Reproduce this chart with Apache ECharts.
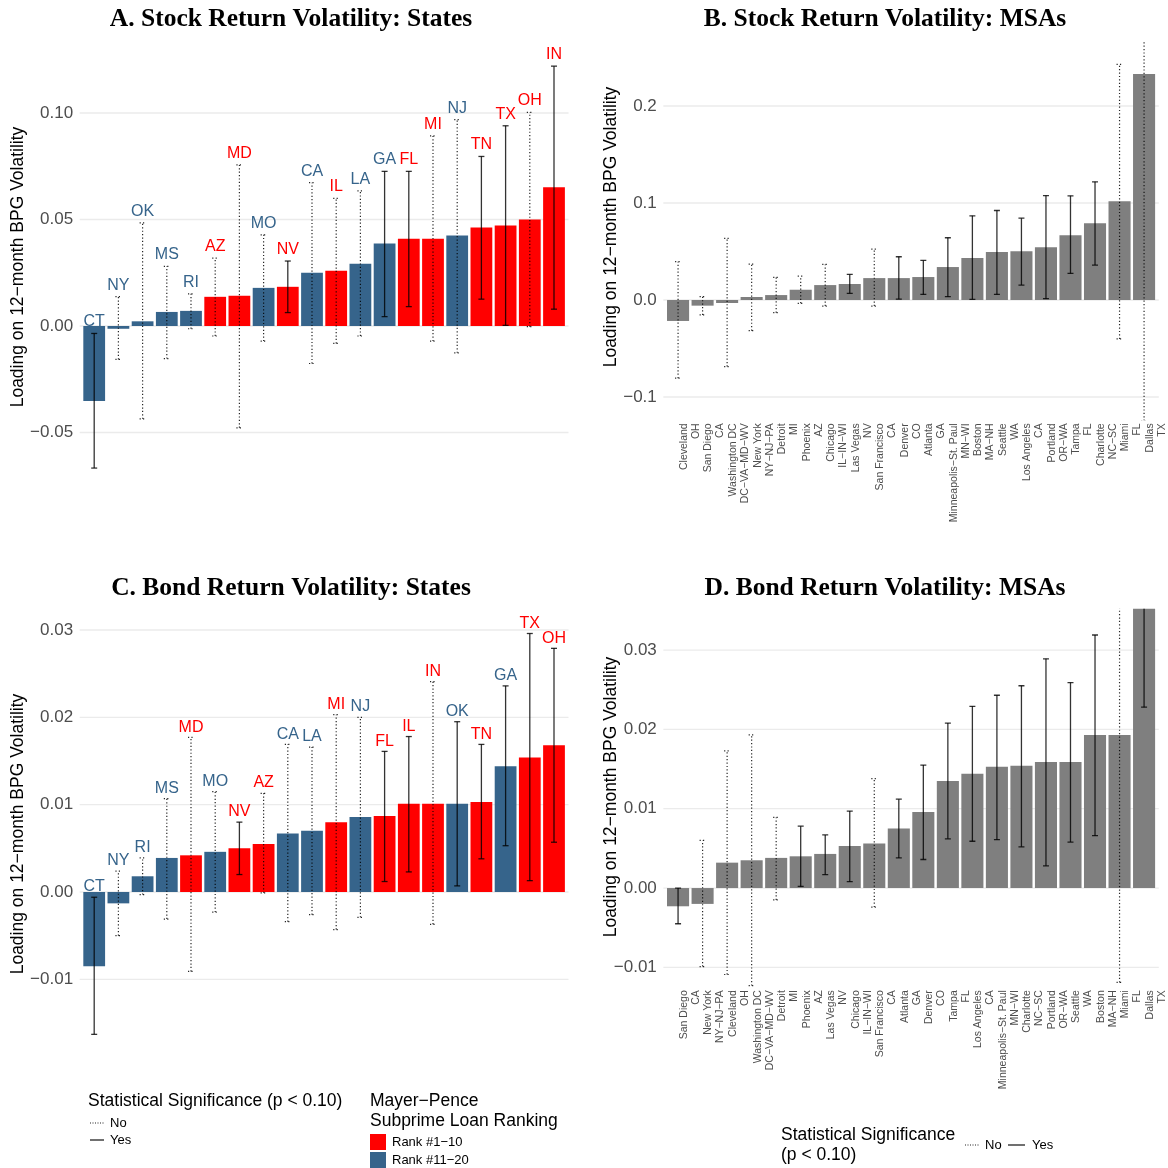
<!DOCTYPE html>
<html><head><meta charset="utf-8">
<script src="https://cdn.jsdelivr.net/npm/echarts@6/dist/echarts.min.js"></script>
<style>html,body{margin:0;padding:0;background:#fff}#c{width:1168px;height:1168px}</style>
</head><body><div id="c"></div>
<script>
// ---------- data ----------
const redStates = ['AZ','MD','NV','IL','FL','MI','TN','TX','OH','IN']; // Mayer-Pence rank #1-10

// Panel A: Stock return volatility, states
const statesA = ['CT','NY','OK','MS','RI','AZ','MD','MO','NV','CA','IL','LA','GA','FL','MI','NJ','TN','TX','OH','IN'];
const estA = [-0.0352,-0.0013,0.0022,0.0066,0.0071,0.0137,0.0142,0.0179,0.0184,0.0250,0.0259,0.0292,0.0387,0.0410,0.0410,0.0425,0.0462,0.0472,0.0500,0.0651];
const loA  = [-0.0667,-0.0157,-0.0436,-0.0153,-0.0013,-0.0047,-0.0478,-0.0071,0.0063,-0.0176,-0.0082,-0.0047,0.0044,0.0091,-0.0071,-0.0126,0.0126,0.0003,-0.0003,0.0079];
const hiA  = [-0.0035,0.0138,0.0484,0.0280,0.0151,0.0319,0.0756,0.0428,0.0305,0.0673,0.0599,0.0634,0.0726,0.0726,0.0893,0.0969,0.0796,0.0940,0.1003,0.1220];
const sigA = [1,0,0,0,0,0,0,0,1,0,0,0,1,1,0,0,1,1,0,1];
const ticksA = [-0.05,0,0.05,0.10];
const tickLabelsA = ['\u22120.05','0.00','0.05','0.10'];

// Panel B: Stock return volatility, MSAs
const msaB = ['Cleveland','San Diego','Washington DC','New York','Detroit','Phoenix','Chicago','Las Vegas','San Francisco','Denver','Atlanta','Minneapolis\u2212St. Paul','Boston','Seattle','Los Angeles','Portland','Tampa','Charlotte','Miami','Dallas'];
const stB  = ['OH','CA','DC\u2212VA\u2212MD\u2212WV','NY\u2212NJ\u2212PA','MI','AZ','IL\u2212IN\u2212WI','NV','CA','CO','GA','MN\u2212WI','MA\u2212NH','WA','CA','OR\u2212WA','FL','NC\u2212SC','FL','TX'];
const estB = [-0.0216,-0.0058,-0.0031,0.0031,0.0051,0.0106,0.0154,0.0165,0.0226,0.0226,0.0237,0.0340,0.0432,0.0494,0.0504,0.0545,0.0669,0.0792,0.1019,0.2329];
const loB  = [-0.0806,-0.0154,-0.0686,-0.0316,-0.0130,-0.0034,-0.0062,0.0069,-0.0062,0.0010,0.0058,0.0034,0.0007,0.0058,0.0154,0.0014,0.0274,0.0360,-0.0401,-0.1245];
const hiB  = [0.0395,0.0034,0.0635,0.0370,0.0233,0.0247,0.0367,0.0264,0.0525,0.0446,0.0408,0.0642,0.0868,0.0923,0.0844,0.1077,0.1074,0.1218,0.2429,0.5900];
const sigB = [0,0,0,0,0,0,0,1,0,1,1,1,1,1,1,1,1,1,0,0];
const ticksB = [-0.1,0,0.1,0.2];
const tickLabelsB = ['\u22120.1','0.0','0.1','0.2'];

// Panel C: Bond return volatility, states
const statesC = ['CT','NY','RI','MS','MD','MO','NV','AZ','CA','LA','MI','NJ','FL','IL','IN','OK','TN','GA','TX','OH'];
const estC = [-0.0085,-0.0013,0.0018,0.0039,0.0042,0.0046,0.0050,0.0055,0.0067,0.0070,0.0080,0.0086,0.0087,0.0101,0.0101,0.0101,0.0103,0.0144,0.0154,0.0168];
const loC  = [-0.0163,-0.0050,-0.0003,-0.0031,-0.0091,-0.0023,0.0020,-0.0001,-0.0034,-0.0026,-0.0043,-0.0029,0.0012,0.0023,-0.0037,0.0007,0.0038,0.0053,0.0013,0.0057];
const hiC  = [-0.0006,0.0024,0.0039,0.0107,0.0177,0.0115,0.0080,0.0113,0.0169,0.0166,0.0203,0.0200,0.0161,0.0178,0.0241,0.0195,0.0169,0.0236,0.0296,0.0279];
const sigC = [1,0,0,0,0,0,1,0,0,0,0,0,1,1,0,1,1,1,1,1];
const ticksC = [-0.01,0,0.01,0.02,0.03];
const tickLabelsC = ['\u22120.01','0.00','0.01','0.02','0.03'];

// Panel D: Bond return volatility, MSAs
const msaD = ['San Diego','New York','Cleveland','Washington DC','Detroit','Phoenix','Las Vegas','Chicago','San Francisco','Atlanta','Denver','Tampa','Los Angeles','Minneapolis\u2212St. Paul','Charlotte','Portland','Seattle','Boston','Miami','Dallas'];
const stD  = ['CA','NY\u2212NJ\u2212PA','OH','DC\u2212VA\u2212MD\u2212WV','MI','AZ','NV','IL\u2212IN\u2212WI','CA','GA','CO','FL','CA','MN\u2212WI','NC\u2212SC','OR\u2212WA','WA','MA\u2212NH','FL','TX'];
const estD = [-0.0023,-0.0020,0.0032,0.0035,0.0038,0.0040,0.0043,0.0053,0.0056,0.0075,0.0096,0.0135,0.0144,0.0153,0.0154,0.0159,0.0159,0.0193,0.0193,0.0380];
const loD  = [-0.0045,-0.0099,-0.0109,-0.0123,-0.0015,0.0002,0.0017,0.0008,-0.0024,0.0038,0.0036,0.0062,0.0059,0.0061,0.0052,0.0028,0.0058,0.0066,-0.0119,0.0228];
const hiD  = [0.0000,0.0060,0.0173,0.0193,0.0089,0.0078,0.0067,0.0097,0.0138,0.0112,0.0155,0.0208,0.0229,0.0243,0.0255,0.0289,0.0259,0.0319,0.0505,0.0532];
const sigD = [1,0,0,0,0,1,1,1,0,1,1,1,1,1,1,1,1,1,0,1];
const ticksD = [-0.01,0,0.01,0.02,0.03];
const tickLabelsD = ['\u22120.01','0.00','0.01','0.02','0.03'];

// ---------- styling / layout ----------
const FONT = '"Liberation Sans", Arial, sans-serif';
const SERIF = '"Liberation Serif", "Times New Roman", serif';
const RED = '#FF0000', BLUE = '#36648B', GREY = '#7F7F7F';

const panels = [
  {cats: statesA, est: estA, lo: loA, hi: hiA, sig: sigA, ticks: ticksA, tl: tickLabelsA, min: -0.075, max: 0.135,
   grid: {left: 82.1, width: 484, top: 38.45, height: 447.3}, nudge: 0.003, states: true, clip: false},
  {cats: msaB.map((m,i)=>m+'\n'+stB[i]), est: estB, lo: loB, hi: hiB, sig: sigB, ticks: ticksB, tl: tickLabelsB, min: -0.124, max: 0.266,
   grid: {left: 665.8, width: 493.4, top: 42.0, height: 378.3}, states: false, clip: true},
  {cats: statesC, est: estC, lo: loC, hi: hiC, sig: sigC, ticks: ticksC, tl: tickLabelsC, min: -0.018, max: 0.033,
   grid: {left: 82.1, width: 484, top: 603.8, height: 445.4}, nudge: 0.0006, states: true, clip: false},
  {cats: msaD.map((m,i)=>m+'\n'+stD[i]), est: estD, lo: loD, hi: hiD, sig: sigD, ticks: ticksD, tl: tickLabelsD, min: -0.0125, max: 0.0352,
   grid: {left: 665.8, width: 493.4, top: 608.8, height: 378.4}, states: false, clip: true}
];

const grids = [], xAxes = [], yAxes = [], series = [];
panels.forEach((p, k) => {
  grids.push(Object.assign({containLabel: false}, p.grid));
  xAxes.push({
    type: 'category', gridIndex: k, data: p.cats, boundaryGap: true,
    axisLine: {show: false}, axisTick: {show: false}, splitLine: {show: false},
    axisLabel: p.states ? {show: false} : {
      show: true, interval: 0, rotate: 90, margin: 3, fontSize: 10.5, lineHeight: 12,
      color: '#4d4d4d', fontFamily: FONT, verticalAlign: 'top'
    }
  });
  yAxes.push({
    type: 'value', gridIndex: k, min: p.min, max: p.max,
    axisLine: {show: false}, splitLine: {show: false},
    axisTick: {show: false, customValues: p.ticks},
    axisLabel: {
      customValues: p.ticks, margin: 9, fontSize: 17, color: '#4d4d4d', fontFamily: FONT,
      formatter: v => { const j = p.ticks.findIndex(t => Math.abs(t - v) < 1e-9); return j >= 0 ? p.tl[j] : ''; }
    }
  });
  const n = p.cats.length;
  // gridlines
  series.push({
    type: 'custom', xAxisIndex: k, yAxisIndex: k, z: 1, silent: true,
    data: p.ticks.map(t => [0, t]),
    renderItem: (params, api) => {
      const cs = params.coordSys;
      const y = api.coord([0, api.value(1)])[1];
      const ext = cs.width / n * 0.1;
      return {type: 'line', shape: {x1: cs.x - ext, y1: y, x2: cs.x + cs.width + ext, y2: y},
              style: {stroke: '#EBEBEB', lineWidth: 1.3}};
    }
  });
  // bars
  series.push({
    type: 'bar', xAxisIndex: k, yAxisIndex: k, z: 2, barWidth: '90%', silent: true,
    data: p.est.map((v, i) => ({value: v, itemStyle: {color: p.states ? (redStates.includes(p.cats[i]) ? RED : BLUE) : GREY}}))
  });
  // error bars (+ state labels)
  series.push({
    type: 'custom', xAxisIndex: k, yAxisIndex: k, z: 3, silent: true, clip: p.clip,
    data: p.lo.map((l, i) => [i, l, p.hi[i], p.sig[i]]),
    renderItem: (params, api) => {
      const i = api.value(0);
      const a = api.coord([i, api.value(1)]);
      const b = api.coord([i, api.value(2)]);
      const s = api.value(3) === 1;
      const st = s ? {stroke: 'rgba(0,0,0,0.8)', lineWidth: 1.3}
                   : {stroke: 'rgba(0,0,0,0.85)', lineWidth: 1.2, lineDash: [1.2, 2.2]};
      const x = a[0];
      const children = [
        {type: 'line', shape: {x1: x, y1: a[1], x2: x, y2: b[1]}, style: st},
        {type: 'line', shape: {x1: x - 3, y1: a[1], x2: x + 3, y2: a[1]}, style: st},
        {type: 'line', shape: {x1: x - 3, y1: b[1], x2: x + 3, y2: b[1]}, style: st}
      ];
      if (p.states) {
        const name = p.cats[i];
        const pl = api.coord([i, api.value(2) + p.nudge]);
        children.push({type: 'text', style: {x: x, y: pl[1] + 3, text: name, fill: redStates.includes(name) ? RED : BLUE,
          font: '16px ' + FONT, align: 'center', verticalAlign: 'bottom'}});
      }
      return {type: 'group', children};
    }
  });
});

// ---------- titles & legends (graphic) ----------
function txt(x, y, text, font, opts) {
  return Object.assign({type: 'text', x: x, y: y, silent: true,
    style: Object.assign({text, font, fill: '#000', textAlign: 'left', textVerticalAlign: 'middle', align: 'left', verticalAlign: 'middle'}, opts || {})});
}
function ctr(x, y, text, font) { return txt(x, y, text, font, {textAlign: 'center', align: 'center'}); }
function rot(x, y, text, font) { const t = ctr(x, y, text, font); t.rotation = Math.PI / 2; return t; }
function seg(x1, x2, y, dotted) {
  return {type: 'line', silent: true, shape: {x1, y1: y, x2, y2: y},
    style: dotted ? {stroke: '#222', lineWidth: 1.1, lineDash: [1, 1.5]} : {stroke: '#222', lineWidth: 1.3}};
}
const TF = 'bold 25.5px ' + SERIF;
const YF = '17.5px ' + FONT;
const LF = '17.5px ' + FONT;
const SF = '13px ' + FONT;
const graphic = [
  ctr(291, 19, 'A. Stock Return Volatility: States', TF),
  ctr(885, 19, 'B. Stock Return Volatility: MSAs', TF),
  ctr(291, 588, 'C. Bond Return Volatility: States', TF),
  ctr(885, 588, 'D. Bond Return Volatility: MSAs', TF),
  rot(18, 267, 'Loading on 12\u2212month BPG Volatility', YF),
  rot(611, 227, 'Loading on 12\u2212month BPG Volatility', YF),
  rot(18, 834, 'Loading on 12\u2212month BPG Volatility', YF),
  rot(611, 797, 'Loading on 12\u2212month BPG Volatility', YF),
  // left legend
  txt(88, 1101, 'Statistical Significance (p < 0.10)', LF),
  seg(90, 104, 1123, true), txt(110, 1123, 'No', SF),
  seg(90, 104, 1140, false), txt(110, 1140, 'Yes', SF),
  txt(370, 1101, 'Mayer\u2212Pence', LF),
  txt(370, 1121, 'Subprime Loan Ranking', LF),
  {type: 'rect', silent: true, shape: {x: 370, y: 1134, width: 16, height: 16}, style: {fill: RED}},
  {type: 'rect', silent: true, shape: {x: 370, y: 1152, width: 16, height: 16}, style: {fill: BLUE}},
  txt(392, 1142, 'Rank #1\u221210', SF),
  txt(392, 1160, 'Rank #11\u221220', SF),
  // right legend
  txt(781, 1135, 'Statistical Significance', LF),
  txt(781, 1155, '(p < 0.10)', LF),
  seg(965, 980, 1145, true), txt(985, 1145, 'No', SF),
  seg(1008, 1025, 1145, false), txt(1032, 1145, 'Yes', SF)
];

const chart = echarts.init(document.getElementById('c'), null, {renderer: 'canvas', width: 1168, height: 1168});
chart.setOption({
  animation: false,
  backgroundColor: '#fff',
  grid: grids, xAxis: xAxes, yAxis: yAxes, series: series, graphic: graphic
});
</script>
</body></html>
